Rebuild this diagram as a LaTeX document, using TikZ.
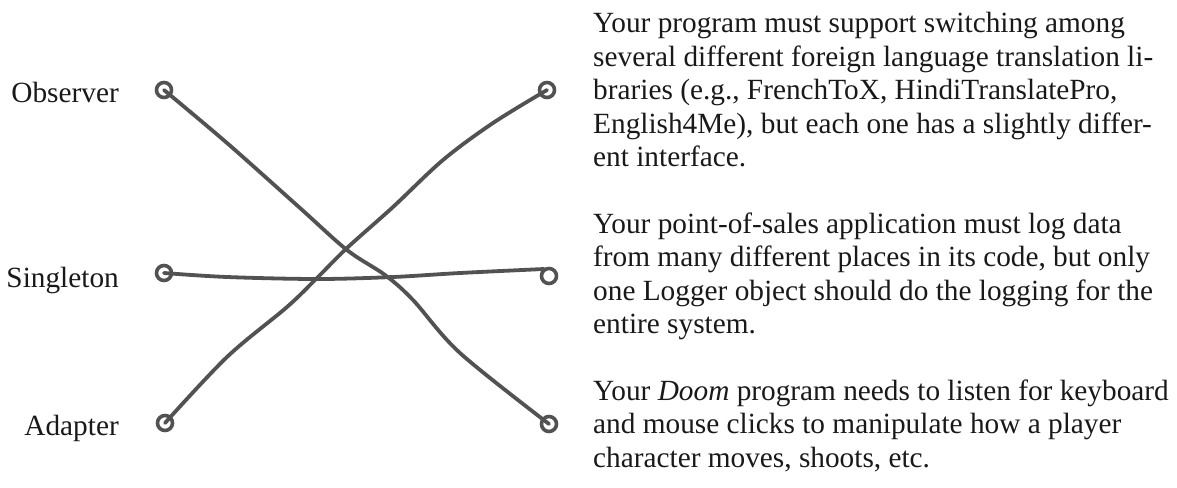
\documentclass[tikz,border=0pt]{standalone}
\usepackage{fontspec}
\setmainfont{Liberation Serif}
\definecolor{wire}{RGB}{82,82,82}
\definecolor{ink}{RGB}{25,25,25}
\begin{document}
\begin{tikzpicture}[x=1pt,y=-1pt,
  ring/.style={circle,draw=wire,line width=3.6pt,minimum size=15pt,inner sep=0pt},
  link/.style={draw=wire,line width=3.8pt,line cap=round,line join=round},
  term/.style={font=\fontsize{29.3}{33.5}\selectfont,text=ink,inner sep=0pt,anchor=base east},
  para/.style={font=\fontsize{29.3}{33.5}\selectfont,text=ink,inner sep=0pt,anchor=base west}]
  \useasboundingbox (0,0) rectangle (1177,487);

  % pattern names
  \node[term] (obs) at (119,102) {Observer};
  \node[term] (sin) at (119,287) {Singleton};
  \node[term] (ada) at (119,435) {Adapter};

  % terminal ring positions
  \coordinate (lt) at (164,90);
  \coordinate (lm) at (164,273);
  \coordinate (lb) at (165,423);
  \coordinate (rt) at (547,90);
  \coordinate (rm) at (549,276);
  \coordinate (rb) at (549,424);

  % hand-drawn connectors
  \draw[link] plot[smooth,tension=0.55] coordinates
    {(lt) (227,143) (300,208) (347,250) (385,275) (413,300) (460,353) (rb)};
  \draw[link] plot[smooth,tension=0.55] coordinates
    {(lb) (227,357) (287,307) (317,278) (347,248) (393,207) (443,160) (493,123) (rt)};
  \draw[link] plot[smooth,tension=0.55] coordinates
    {(lm) (227,277) (317,279) (393,277) (460,273) (544,269)};

  \node[ring] (ringLT) at (lt) {};
  \node[ring] (ringLM) at (lm) {};
  \node[ring] (ringLB) at (lb) {};
  \node[ring] (ringRT) at (rt) {};
  \node[ring] (ringRM) at (rm) {};
  \node[ring] (ringRB) at (rb) {};

  % problem descriptions
  \node[para] (p1) at (593,33) {\begin{tabular}[t]{@{}l@{}}
    Your program must support switching among\\
    several different foreign language translation li-\\
    braries (e.g., FrenchToX, HindiTranslatePro,\\
    English4Me), but each one has a slightly differ-\\
    ent interface.\end{tabular}};
  \node[para] (p2) at (593,233) {\begin{tabular}[t]{@{}l@{}}
    Your point-of-sales application must log data\\
    from many different places in its code, but only\\
    one Logger object should do the logging for the\\
    entire system.\end{tabular}};
  \node[para] (p3) at (593,400) {\begin{tabular}[t]{@{}l@{}}
    Your \textit{Doom} program needs to listen for keyboard\\
    and mouse clicks to manipulate how a player\\
    character moves, shoots, etc.\end{tabular}};
\end{tikzpicture}
\end{document}
